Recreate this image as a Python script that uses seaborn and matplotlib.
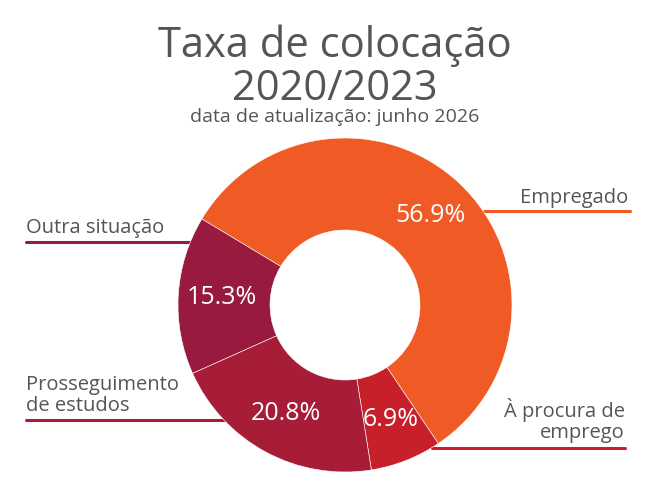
import matplotlib
matplotlib.use("Agg")
import matplotlib.pyplot as plt
import seaborn as sns

# data
categorias = ["Empregado", "À procura de\nemprego", "Prosseguimento\nde estudos", "Outra situação"]
valores = [56.9, 6.9, 20.8, 15.3]
cores = ["#F05A24", "#C7202A", "#A71D37", "#981A3E"]

titulo = ["Taxa de colocação", "2020/2023"]
subtitulo = "data de atualização: junho 2026"

sns.set_theme(style="white")
plt.rcParams["font.family"] = ["Open Sans", "DejaVu Sans"]
texto = "#555555"

fig = plt.figure(figsize=(6.5, 5), dpi=100)
ax = fig.add_axes([0, 0, 1, 1])

# axes in pixel units (y measured upward)
wedges, _, pcts = ax.pie(valores, colors=cores, startangle=149, counterclock=False,
                         center=(345, 195), radius=167, frame=True,
                         autopct="%.1f%%", pctdistance=0.74,
                         wedgeprops=dict(width=92, edgecolor="white", linewidth=0.4, zorder=3),
                         textprops=dict(color="white", fontsize=18, zorder=4))
for t, v in zip(pcts, valores):
    t.set_text(f"{v:.1f}%")

ax.set_xlim(0, 650)
ax.set_ylim(0, 500)
ax.set_aspect("equal")
ax.axis("off")

fs = 14.5
passo = 21


def rotulo(txt, x, y_base, ha):
    # y_base = baseline of the last line, in pixels from the top
    linhas = txt.split("\n")
    for i, linha in enumerate(linhas):
        y = y_base - (len(linhas) - 1 - i) * passo
        ax.text(x, 500 - y, linha, ha=ha, va="baseline", fontsize=fs, color=texto)


rotulo(categorias[0], 628, 203, "right")
ax.plot([484, 630], [500 - 211, 500 - 211], color=cores[0], lw=2.2, zorder=1)

rotulo(categorias[1], 625, 438, "right")
ax.plot([432, 625], [500 - 448, 500 - 448], color=cores[1], lw=2.2, zorder=1)

rotulo(categorias[3], 26, 233, "left")
ax.plot([26, 200], [500 - 242, 500 - 242], color=cores[3], lw=2.2, zorder=1)

rotulo(categorias[2], 26, 411, "left")
ax.plot([26, 230], [500 - 420, 500 - 420], color=cores[2], lw=2.2, zorder=1)

ax.text(335, 500 - 57, titulo[0], ha="center", va="baseline", fontsize=30, color=texto)
ax.text(335, 500 - 100, titulo[1], ha="center", va="baseline", fontsize=30, color=texto)
ax.text(335, 500 - 122, subtitulo, ha="center", va="baseline", fontsize=14, color=texto)

fig.savefig("out.png", dpi=100)
